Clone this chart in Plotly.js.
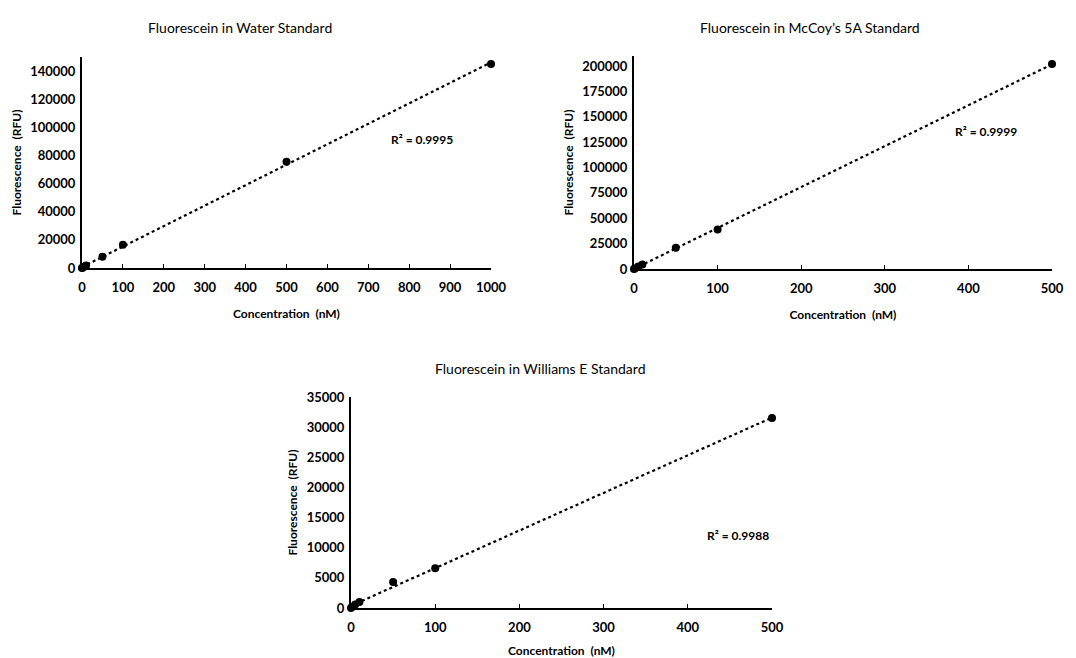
<!DOCTYPE html>
<html>
<head>
<meta charset="utf-8">
<script src="https://cdn.plot.ly/plotly-3.0.1.min.js"></script>
<style>html,body{margin:0;padding:0;background:#fff;}#chart{width:1076px;height:658px;}</style>
</head>
<body>
<div id="chart"></div>
<script>
// ---- data ----
const waterConc = [0, 1, 5, 10, 50, 100, 500, 1000];
const waterRFU  = [0, 200, 900, 1800, 8000, 16500, 75500, 145000];
const mccoyConc = [0, 1, 5, 10, 50, 100, 500];
const mccoyRFU  = [0, 500, 2500, 4500, 21000, 39000, 202000];
const willConc  = [0, 1, 5, 10, 50, 100, 500];
const willRFU   = [0, 150, 600, 1000, 4300, 6600, 31500];
const panelTitles = ["Fluorescein in Water Standard", "Fluorescein in McCoy\u2019s 5A Standard", "Fluorescein in Williams E Standard"];
const r2Labels = ["R\u00b2 = 0.9995", "R\u00b2 = 0.9999", "R\u00b2 = 0.9988"];

// least-squares linear trendline from the data
function fit(xs, ys) {
  const n = xs.length;
  const mx = xs.reduce((a, b) => a + b, 0) / n;
  const my = ys.reduce((a, b) => a + b, 0) / n;
  let sxy = 0, sxx = 0;
  for (let i = 0; i < n; i++) { sxy += (xs[i] - mx) * (ys[i] - my); sxx += (xs[i] - mx) ** 2; }
  const m = sxy / sxx, b = my - m * mx;
  const x0 = Math.min(...xs), x1 = Math.max(...xs);
  return { x: [x0, x1], y: [m * x0 + b, m * x1 + b] };
}

const FONT = "Lato, 'Open Sans', sans-serif";
const sets = [[waterConc, waterRFU], [mccoyConc, mccoyRFU], [willConc, willRFU]];
const traces = [];
sets.forEach((s, i) => {
  const ax = i === 0 ? "" : String(i + 1);
  const f = fit(s[0], s[1]);
  traces.push({ x: f.x, y: f.y, xaxis: "x" + ax, yaxis: "y" + ax, mode: "lines",
    line: { color: "#000", width: 2.2, dash: "dot" }, hoverinfo: "skip", cliponaxis: false });
  traces.push({ x: s[0], y: s[1], xaxis: "x" + ax, yaxis: "y" + ax, mode: "markers",
    marker: { color: "#000", size: 8 }, cliponaxis: false });
});

const W = 1076, H = 658;
const px = v => v / W, py = v => 1 - v / H;
const tickF = { family: FONT, size: 13, color: "#000", weight: "bold" };
const axTitleF = { family: FONT, size: 12, color: "#000", weight: "bold" };

function xax(d, range, dtick, anchor) {
  return { domain: d, range: range, dtick: dtick, tick0: 0, anchor: anchor, showgrid: false, zeroline: false,
    showline: true, linecolor: "#000", linewidth: 2, ticks: "inside", ticklen: 4, tickcolor: "#000", tickwidth: 1,
    ticklabelstandoff: 6,
    tickfont: tickF, title: { text: "Concentration  (nM)", font: axTitleF, standoff: 16 } };
}
function yax(d, range, dtick, anchor) {
  return { domain: d, range: range, dtick: dtick, tick0: 0, anchor: anchor, showgrid: false, zeroline: false,
    showline: true, linecolor: "#000", linewidth: 2, ticks: "", tickformat: "d", ticklabelstandoff: 2,
    tickfont: tickF, title: { text: "Fluorescence  (RFU)", font: axTitleF, standoff: 6 } };
}

function ann(text, x, y, size, weight) {
  return { text: text, xref: "paper", yref: "paper", x: px(x), y: py(y), xanchor: "center", yanchor: "middle",
    showarrow: false, font: { family: FONT, size: size, weight: weight, color: "#000" } };
}

const layout = {
  width: W, height: H, margin: { l: 0, r: 0, t: 0, b: 0 },
  paper_bgcolor: "#fff", plot_bgcolor: "#fff", showlegend: false,
  font: { family: FONT, color: "#000" },
  xaxis:  xax([px(82), px(491)], [0, 1000], 100, "y"),
  yaxis:  yax([py(268), py(57)], [0, 150000], 20000, "x"),
  xaxis2: xax([px(634), px(1052)], [0, 500], 100, "y2"),
  yaxis2: yax([py(269), py(56)], [0, 210000], 25000, "x2"),
  xaxis3: xax([px(351), px(772)], [0, 500], 100, "y3"),
  yaxis3: yax([py(608), py(397)], [0, 35000], 5000, "x3"),
  annotations: [
    ann(panelTitles[0], 240, 27, 14, "normal"),
    ann(panelTitles[1], 810, 27, 14, "normal"),
    ann(panelTitles[2], 540, 368, 14, "normal"),
    ann(r2Labels[0], 422, 140, 12, "bold"),
    ann(r2Labels[1], 986, 132, 12, "bold"),
    ann(r2Labels[2], 738, 535, 12, "bold")
  ]
};

Plotly.newPlot("chart", traces, layout, { staticPlot: true, displayModeBar: false });
</script>
</body>
</html>
